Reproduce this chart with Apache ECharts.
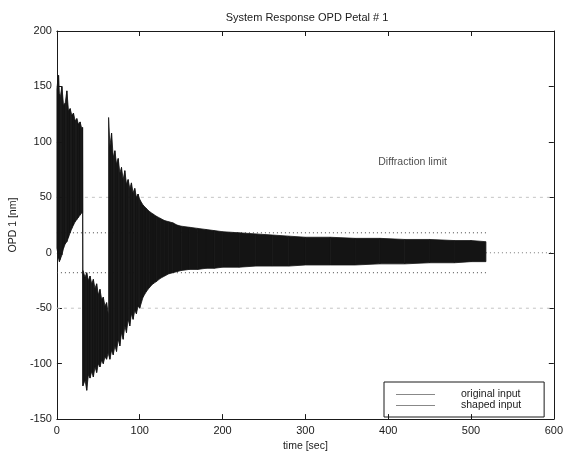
<!DOCTYPE html>
<html>
<head>
<meta charset="utf-8">
<script src="https://cdn.jsdelivr.net/npm/echarts@6/dist/echarts.min.js"></script>
<style>
  html, body { margin: 0; padding: 0; background: #fff; }
  #chart { width: 566px; height: 457px; }
</style>
</head>
<body>
<div id="chart"></div>
<script>
// System Response OPD Petal # 1
// the response is drawn as a band between its upper and lower envelope

// --- original input: first two blocks (0 - 62 sec) ---
var tOrig  = [0, 1, 2, 3, 4, 6, 8, 10, 12, 14, 16, 18, 20, 22, 24, 26, 28, 30, 31,
              31.4, 34, 36, 38, 40, 42, 44, 46, 48, 50, 52, 54, 56, 58, 60, 62];
var upOrig = [148, 155, 160, 143, 140, 150, 133, 135, 146, 128, 130, 124, 126, 119, 121, 116, 118, 112, 113,
              -16, -22, -18, -25, -21, -28, -24, -32, -28, -38, -33, -42, -40, -48, -45, -55];
var loOrig = [4, 0, -5, -8, -6, -2, 4, 8, 10, 14, 18, 22, 25, 28, 30, 32, 34, 36, 36,
              -120, -115, -124, -110, -113, -107, -112, -103, -108, -100, -103, -97, -100, -94, -96, -90];

// --- shaped input: decaying part (62 - 518 sec) ---
var tShaped  = [62.4, 64, 66, 68, 70, 72, 74, 76, 78, 80, 82, 84, 86, 88, 90, 92, 94, 96, 98, 100,
                104, 108, 112, 116, 120, 125, 130, 135, 140, 145, 150, 160, 170, 180, 190, 200,
                220, 240, 260, 280, 300, 330, 360, 390, 420, 450, 480, 500, 518];
var upShaped = [122, 96, 108, 86, 92, 80, 85, 72, 77, 66, 74, 62, 66, 58, 63, 54, 58, 50, 53, 48,
                43, 40, 37, 35, 33, 31, 29, 28, 27, 25, 24, 23, 22, 21, 20, 19,
                18, 17, 16, 15, 14, 14, 13, 13, 12, 12, 11, 11, 10];
var loShaped = [-92, -96, -88, -92, -84, -89, -78, -84, -72, -78, -66, -72, -60, -66, -55, -60, -52, -55, -48, -50,
                -40, -35, -31, -28, -26, -23, -21, -19, -18, -17, -16, -15, -15, -14, -14, -13,
                -13, -12, -12, -12, -11, -11, -11, -10, -10, -9, -9, -8, -8];

// reference lines
var limitT = [0, 518];        // diffraction limit, +/- 18 nm
var limitV = 18;
var wideT = [0, 600];         // +/- 50 nm
var wideV = 50;
var zeroT = [518, 600];       // zero line after the run
var labelAt = [[388, 82]];    // "Diffraction limit" text

var xTicks = { min: 0, max: 600, step: 100 };
var yTicks = { min: -150, max: 200, step: 50 };

var font = 'Liberation Sans, Arial, sans-serif';
var ink = '#1a1a1a';

function rows(ts, ups, los) {
  return ts.map(function (t, i) { return [t, ups[i], los[i]]; });
}

function linePts(ts, v) {
  return ts.map(function (t) { return [t, v]; });
}

// draw the band piece between sample i and i+1
function bandItem(ts, ups, los) {
  return function (params, api) {
    var i = params.dataIndex;
    if (i >= ts.length - 1) return null;
    var pts = [
      api.coord([ts[i], ups[i]]), api.coord([ts[i + 1], ups[i + 1]]),
      api.coord([ts[i + 1], los[i + 1]]), api.coord([ts[i], los[i]])
    ];
    return {
      type: 'polygon',
      shape: { points: pts },
      style: { fill: '#141414', stroke: '#141414', lineWidth: 0.8 }
    };
  };
}

function refLine(name, data, type, color) {
  return {
    name: name, type: 'line', data: data, symbol: 'none', silent: true, z: 1,
    lineStyle: { type: type, color: color, width: 1 }
  };
}

var axisCommon = {
  type: 'value',
  axisLine: { show: true, onZero: false, lineStyle: { color: ink, width: 1 } },
  axisTick: { show: true, inside: true, length: 5, lineStyle: { color: ink } },
  splitLine: { show: false }
};

var myChart = echarts.init(document.getElementById('chart'));

myChart.setOption({
  backgroundColor: '#fff',
  animation: false,
  textStyle: { fontFamily: font },
  title: {
    text: 'System Response OPD Petal # 1',
    left: 302, top: 7, textAlign: 'center',
    textStyle: { fontFamily: font, fontSize: 11, fontWeight: 'normal', color: ink }
  },
  grid: { left: 53, right: 10, top: 31, bottom: 31 },
  legend: {
    data: ['original input', 'shaped input'],
    orient: 'vertical',
    left: 384, top: 382,
    icon: 'rect', itemWidth: 39, itemHeight: 1, itemGap: 0,
    itemStyle: { color: '#888' },
    borderColor: ink, borderWidth: 1,
    padding: [7, 23, 6, 12],
    textStyle: { fontFamily: font, fontSize: 10.5, color: ink, lineHeight: 11, padding: [0, 0, 0, 21] }
  },
  xAxis: [
    Object.assign({}, axisCommon, {
      position: 'bottom', min: xTicks.min, max: xTicks.max, interval: xTicks.step,
      name: 'time [sec]', nameLocation: 'middle', nameGap: 16,
      nameTextStyle: { fontFamily: font, fontSize: 10.5, color: ink },
      axisLabel: { fontFamily: font, fontSize: 11, color: ink, margin: 6 }
    }),
    Object.assign({}, axisCommon, {
      position: 'top', min: xTicks.min, max: xTicks.max, interval: xTicks.step,
      axisLabel: { show: false }
    })
  ],
  yAxis: [
    Object.assign({}, axisCommon, {
      position: 'left', min: yTicks.min, max: yTicks.max, interval: yTicks.step,
      name: 'OPD 1 [nm]', nameLocation: 'middle', nameGap: 26,
      nameTextStyle: { fontFamily: font, fontSize: 10.5, color: ink },
      axisLabel: { fontFamily: font, fontSize: 11, color: ink, margin: 5 }
    }),
    Object.assign({}, axisCommon, {
      position: 'right', min: yTicks.min, max: yTicks.max, interval: yTicks.step,
      axisLabel: { show: false }
    })
  ],
  series: [
    refLine('limit +', linePts(limitT, limitV), [1, 3], '#444'),
    refLine('limit -', linePts(limitT, -limitV), [1, 3], '#444'),
    refLine('wide +', linePts(wideT, wideV), [3, 4], '#c4c4c4'),
    refLine('wide -', linePts(wideT, -wideV), [3, 4], '#c4c4c4'),
    refLine('zero', linePts(zeroT, 0), [1, 3], '#777'),
    {
      name: 'original input', type: 'custom', z: 3,
      itemStyle: { color: '#888' },
      renderItem: bandItem(tOrig, upOrig, loOrig),
      encode: { x: 0, y: [1, 2] },
      data: rows(tOrig, upOrig, loOrig)
    },
    {
      name: 'shaped input', type: 'custom', z: 3,
      itemStyle: { color: '#888' },
      renderItem: bandItem(tShaped, upShaped, loShaped),
      encode: { x: 0, y: [1, 2] },
      data: rows(tShaped, upShaped, loShaped)
    },
    {
      name: 'note', type: 'scatter', symbolSize: 0, silent: true, z: 4,
      data: labelAt,
      label: {
        show: true, position: 'right', distance: 0,
        formatter: 'Diffraction limit',
        fontFamily: font, fontSize: 10.5, color: ink
      }
    }
  ]
});
</script>
</body>
</html>
